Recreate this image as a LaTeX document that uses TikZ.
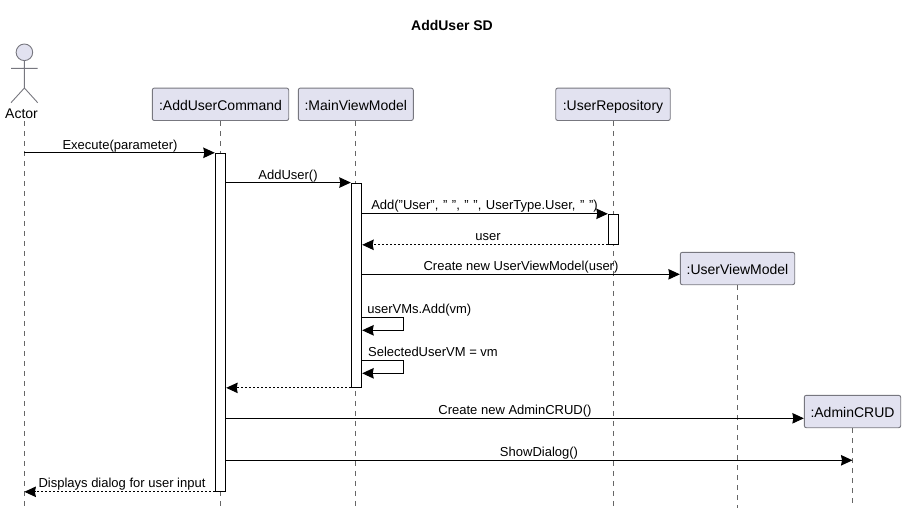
\documentclass[tikz,border=0pt]{standalone}
\usepackage{fontspec}
\setmainfont{Liberation Sans}
\usetikzlibrary{arrows.meta, positioning}
\definecolor{partfill}{HTML}{E2E2F0}
\definecolor{partline}{HTML}{77777F}
\definecolor{lifegray}{HTML}{666666}
\tikzset{
  part/.style={draw=partline, line width=0.9pt, fill=partfill, rounded corners=2pt, inner sep=0pt, minimum height=32.4pt, text height=12pt, text depth=0pt, font=\fontsize{14}{16}\selectfont},
  bar/.style={draw=black, line width=1pt, fill=white, inner sep=0pt, minimum width=10.4pt},
  lifeline/.style={draw=lifegray, line width=0.8pt, dash pattern=on 5pt off 5pt},
  msg/.style={draw=black, line width=1pt, -{Stealth[length=11.5pt,width=10.5pt,inset=1pt]}},
  reply/.style={msg, dash pattern=on 2pt off 2pt},
  msglabel/.style={anchor=base, inner sep=0pt, font=\fontsize{13}{15}\selectfont}
}
\begin{document}
\begin{tikzpicture}[x=1pt,y=-1pt]
    \useasboundingbox (0,0) rectangle (905,515);
    \node[anchor=base, inner sep=0pt, font=\fontsize{14}{16}\selectfont\bfseries] (title) at (452,30) {AddUser SD};
    % actor
    \node[circle, draw=partline, line width=0.9pt, fill=partfill, minimum size=16.6pt, inner sep=0pt] (head) at (24.4,52.3) {};
    \coordinate (hip) at (24.4,88);
    \coordinate (armL) at (11,68.3);
    \coordinate (armR) at (37.7,68.3);
    \coordinate (legL) at (11,102.7);
    \coordinate (legR) at (37.7,102.7);
    \draw[partline, line width=0.9pt] (head.south) -- (hip) (armL) -- (armR) (legL) -- (hip) -- (legR);
    \node[anchor=base, inner sep=0pt, font=\fontsize{14}{16}\selectfont] (actor) at (21.5,118) {Actor};
    % participants
    \foreach \name/\x/\y/\w/\txt in {cmd/220.5/104.3/136.4/{:AddUserCommand}, main/355.8/104.3/115/{:MainViewModel}, repo/613/104.3/114.5/{:UserRepository}, uvm/737.5/268.5/114.4/{:UserViewModel}, crud/852.5/411.5/96.4/{:AdminCRUD}} {
      \node[part, minimum width=\w pt] (\name) at (\x,\y) {\txt};
    }
    % lifelines
    \coordinate (bottom) at (0,508);
    \coordinate (actortop) at (24.4,121);
    \draw[lifeline] (actortop) -- (actortop |- bottom);
    \foreach \name in {cmd,main,repo,uvm,crud} {
      \draw[lifeline] (\name.south) -- (\name.south |- bottom);
    }
    % activations
    \node[bar, minimum height=338pt] (cmdbar) at (220.5,322.3) {};
    \node[bar, minimum height=204.3pt] (mainbar) at (356.5,285.2) {};
    \node[bar, minimum height=30pt] (repobar) at (613.5,229.3) {};
    % messages
    \draw[msg] (actortop |- cmdbar.north west) -- (cmdbar.north west);
    \draw[msg] (cmdbar.east |- mainbar.north) -- (mainbar.north west);
    \draw[msg] (mainbar.east |- repobar.north) -- (repobar.north west);
    \draw[reply] (repobar.south west) -- (mainbar.east |- repobar.south);
    \coordinate (newuvm) at (0,274.3);
    \draw[msg] (mainbar.east |- newuvm) -- (uvm.west |- newuvm);
    \foreach \ya/\yb in {317.3/330.3, 360.3/373.3} {
      \coordinate (selfa) at (403.7,\ya);
      \coordinate (selfb) at (403.7,\yb);
      \draw[msg] (mainbar.east |- selfa) -- (selfa) -- (selfb) -- (mainbar.east |- selfb);
    }
    \draw[reply] (mainbar.south west) -- (cmdbar.east |- mainbar.south);
    \coordinate (newcrud) at (0,418.3);
    \draw[msg] (cmdbar.east |- newcrud) -- (crud.west |- newcrud);
    \coordinate (showdlg) at (0,460.3);
    \draw[msg] (cmdbar.east |- showdlg) -- (crud.south |- showdlg);
    \draw[reply] (cmdbar.south west) -- (actortop |- cmdbar.south);
    % labels
    \foreach \i/\x/\y/\txt in {a/120/149.5/{Execute(parameter)}, b/288/179/{AddUser()}, c/484.5/209.5/{\spaceskip=4.6pt\relax Add("User", " ", " ", UserType.User, " ")}, d/488/240/{user}, e/521/270/{Create new UserViewModel(user)}, f/419.3/313/{userVMs.Add(vm)}, g/433/356/{SelectedUserVM = vm}, h/515/414/{Create new AdminCRUD()}, k/539/456/{ShowDialog()}, m/122/487/{Displays dialog for user input}} {
      \node[msglabel] (lab\i) at (\x,\y) {\txt};
    }
\end{tikzpicture}
\end{document}
